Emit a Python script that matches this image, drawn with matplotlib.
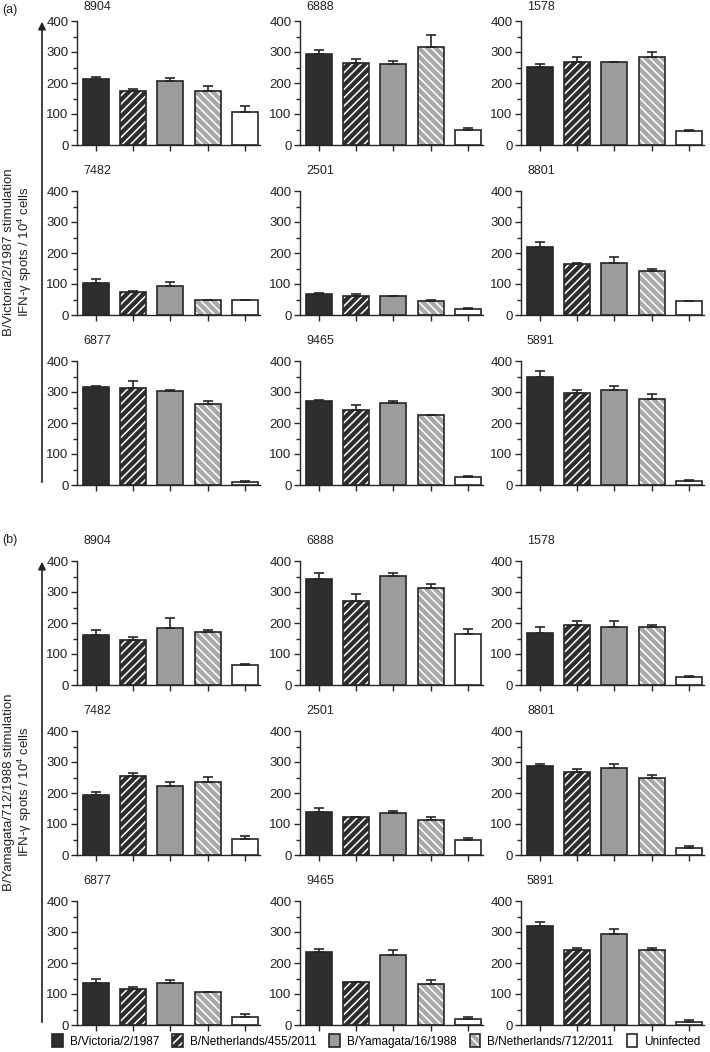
import numpy as np
import matplotlib
matplotlib.use('Agg')
import matplotlib.pyplot as plt
from matplotlib.patches import Patch, FancyArrowPatch
from matplotlib.ticker import MultipleLocator

plt.rcParams['font.family'] = ['Liberation Sans', 'DejaVu Sans']
plt.rcParams['mathtext.fontset'] = 'custom'
plt.rcParams['mathtext.rm'] = 'Liberation Sans'
plt.rcParams['hatch.linewidth'] = 1.1

# ── data ────────────────────────────────────────────────────────────────────
donors = ['8904', '6888', '1578', '7482', '2501', '8801', '6877', '9465', '5891']
strains = ['B/Victoria/2/1987', 'B/Netherlands/455/2011', 'B/Yamagata/16/1988',
           'B/Netherlands/712/2011', 'Uninfected']

vic_mean = [[212, 175, 206, 174, 107],
            [293, 265, 261, 315, 48],
            [253, 267, 268, 284, 46],
            [103, 75, 93, 48, 47],
            [68, 61, 60, 44, 19],
            [220, 163, 167, 142, 44],
            [316, 314, 302, 262, 10],
            [271, 242, 266, 225, 26],
            [350, 296, 308, 279, 14]]
vic_err = [[8, 6, 9, 15, 18],
           [13, 14, 11, 41, 8],
           [7, 16, 0, 16, 2],
           [12, 2, 14, 1, 1],
           [3, 7, 2, 4, 2],
           [15, 5, 20, 8, 1],
           [3, 22, 6, 10, 2],
           [4, 15, 4, 2, 3],
           [18, 9, 10, 14, 2]]

yam_mean = [[161, 145, 185, 172, 65],
            [341, 272, 351, 313, 163],
            [169, 195, 186, 187, 25],
            [192, 256, 224, 236, 53],
            [140, 122, 135, 114, 47],
            [288, 267, 281, 248, 22],
            [134, 117, 134, 105, 27],
            [236, 139, 226, 133, 18],
            [319, 241, 293, 243, 11]]
yam_err = [[15, 9, 30, 5, 3],
           [21, 22, 10, 13, 18],
           [17, 11, 20, 5, 3],
           [11, 8, 13, 17, 9],
           [12, 1, 6, 8, 7],
           [4, 9, 12, 10, 6],
           [16, 7, 12, 2, 9],
           [10, 1, 15, 11, 8],
           [14, 7, 16, 5, 4]]

# ── styles ──────────────────────────────────────────────────────────────────
EDGE = '#262626'
TXT = '#222222'
face = ['#2e2e2e', '#2e2e2e', '#9c9c9c', '#a9a9a9', 'white']
hatch = [None, '////', None, '\\\\\\\\', None]

W, H = 710, 1052
fig = plt.figure(figsize=(W / 100, H / 100), dpi=100)

col_left = [77, 300, 521]
row_top = {'a': [21, 191, 361], 'b': [561, 731, 901]}
AX_W, AX_H = 183, 124


def draw_panel(ax, vals, errs):
    x = np.arange(5)
    for i in range(5):
        if hatch[i]:
            ax.bar(x[i], vals[i], width=0.7, color=face[i], edgecolor='white',
                   hatch=hatch[i], linewidth=0, zorder=2)
            ax.bar(x[i], vals[i], width=0.7, color='none', edgecolor=EDGE,
                   linewidth=1.2, zorder=3)
        else:
            ax.bar(x[i], vals[i], width=0.7, color=face[i], edgecolor=EDGE,
                   linewidth=1.2, zorder=3)
    ax.errorbar(x, vals, yerr=[np.zeros(5), errs], fmt='none', ecolor=EDGE,
                elinewidth=1.2, capsize=3.5, capthick=1.2, zorder=4)
    ax.set_xlim(-0.5, 4.4)
    ax.set_ylim(0, 400)
    ax.set_xticks(x)
    ax.set_xticklabels([])
    ax.yaxis.set_major_locator(MultipleLocator(100))
    ax.yaxis.set_minor_locator(MultipleLocator(50))
    for s in ['top', 'right']:
        ax.spines[s].set_visible(False)
    for s in ['left', 'bottom']:
        ax.spines[s].set_linewidth(1.0)
        ax.spines[s].set_color(EDGE)
    ax.tick_params(which='both', direction='out', color=EDGE, width=1.0)
    ax.tick_params(which='major', length=4, labelsize=9.5, pad=2,
                   labelcolor=TXT)
    ax.tick_params(which='minor', length=3)
    ax.patch.set_alpha(0)


for part, means, errs in [('a', vic_mean, vic_err), ('b', yam_mean, yam_err)]:
    for k in range(9):
        r, c = divmod(k, 3)
        top = row_top[part][r]
        left = col_left[c]
        ax = fig.add_axes([left / W, 1 - (top + AX_H) / H, AX_W / W, AX_H / H])
        draw_panel(ax, means[k], errs[k])
        off = 14 if (part == 'a' and r == 0) else 20
        fig.text((left + 6) / W, 1 - (top - off) / H, donors[k],
                 fontsize=9, va='center', ha='left', color=TXT)

# panel letters
fig.text(2 / W, 1 - 10 / H, '(a)', fontsize=9, va='center', color=TXT)
fig.text(2 / W, 1 - 540 / H, '(b)', fontsize=9, va='center', color=TXT)

# big stimulation arrows + labels
ylabels = {'a': 'B/Victoria/2/1987 stimulation',
           'b': 'B/Yamagata/712/1988 stimulation'}
arrow_span = {'a': (485, 19), 'b': (1025, 559)}
for part in ['a', 'b']:
    y0, y1 = arrow_span[part]
    arr = FancyArrowPatch((42 / W, 1 - y0 / H), (42 / W, 1 - y1 / H),
                          transform=fig.transFigure, arrowstyle='-|>',
                          mutation_scale=11, lw=1.2, color=TXT)
    fig.add_artist(arr)
    ymid = 1 - (y0 + y1) / 2 / H
    fig.text(9 / W, ymid, ylabels[part], rotation=90, fontsize=9.5,
             ha='center', va='center', color=TXT)
    fig.text(25 / W, ymid, 'IFN-γ spots / 10$^{4}$ cells', rotation=90,
             fontsize=9.5, ha='center', va='center', color=TXT)

# legend
handles = []
for i in range(5):
    if hatch[i]:
        handles.append((Patch(facecolor=face[i], edgecolor='white', hatch=hatch[i],
                              linewidth=0),
                        Patch(facecolor='none', edgecolor=EDGE, linewidth=1.2)))
    else:
        handles.append(Patch(facecolor=face[i], edgecolor=EDGE, linewidth=1.2))
fig.legend(handles, strains, loc='center', bbox_to_anchor=(0.53, 1 - 1041 / H),
           ncol=5, frameon=False, fontsize=8.5, handlelength=0.9, handleheight=1.2,
           handletextpad=0.6, columnspacing=1.1, borderaxespad=0)

fig.savefig('out.png', dpi=100, facecolor='white')
